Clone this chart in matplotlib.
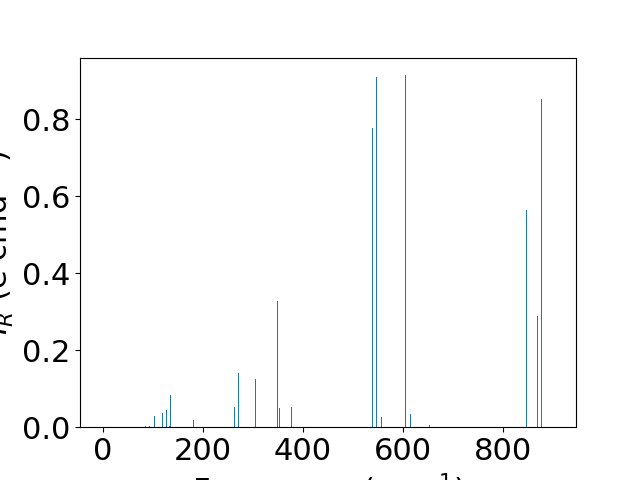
import numpy as np
import matplotlib
matplotlib.use("Agg")
import matplotlib.pyplot as plt

# vibrational modes: frequency (cm^-1) and IR intensity
freq = [85, 93, 102, 119, 127, 132, 134, 181, 263, 271, 305, 348, 353, 377,
        539, 546, 557, 605, 615, 653, 847, 869, 877]
intensity = [0.003, 0.003, 0.029, 0.036, 0.044, 0.003, 0.083, 0.018, 0.052, 0.14,
             0.125, 0.327, 0.049, 0.052, 0.776, 0.909, 0.026, 0.914, 0.034,
             0.005, 0.564, 0.288, 0.852]

plt.rcParams['font.size'] = 22

fig = plt.figure(figsize=(6.4, 4.8), dpi=100)
ax = fig.add_subplot(111)
ax.bar(freq, intensity, width=2, color='C0')
ax.set_xlim(-46, 946)
ax.set_xlabel("Frequency (cm$^{-1}$)")
ax.set_ylabel("$I_R$ (e cmd$^{-1}$)")

fig.savefig("out.png")
